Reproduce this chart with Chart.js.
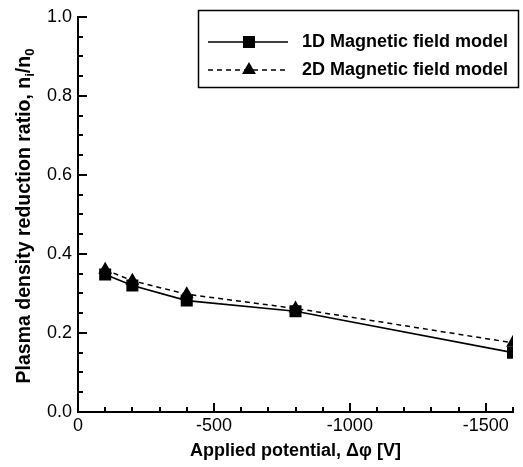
<!DOCTYPE html>
<html>
<head>
<meta charset="utf-8">
<script src="https://cdn.jsdelivr.net/npm/chart.js@4.4.1/dist/chart.umd.min.js"></script>
<style>
  html, body { margin: 0; padding: 0; background: #fff; }
  #wrap { width: 523px; height: 467px; }
</style>
</head>
<body>
<div id="wrap"><canvas id="chart" width="523" height="467"></canvas></div>
<script>
// -------------------------------
// DATA
// -------------------------------
const potential = [-100, -200, -400, -800, -1600];
const model1D = [0.348, 0.32, 0.282, 0.255, 0.15];
const model2D = [0.36, 0.332, 0.298, 0.262, 0.175];

const xTicks = [0, -500, -1000, -1500];
const yTicks = [0.0, 0.2, 0.4, 0.6, 0.8, 1.0];
const xMinorStep = 100;
const yMinorStep = 0.05;

const seriesNames = ["1D Magnetic field model", "2D Magnetic field model"];
const xTitle = "Applied potential, \u0394\u03c6 [V]";

const FONT = "'Liberation Sans', Arial, sans-serif";

// -------------------------------
// PLUGIN: inward ticks, y title, legend
// -------------------------------
const decorPlugin = {
  id: "decor",
  afterDraw(chart) {
    const ctx = chart.ctx;
    const xs = chart.scales.x;
    const ys = chart.scales.y;
    const area = chart.chartArea;

    ctx.save();
    ctx.strokeStyle = "#000";
    ctx.lineWidth = 2;

    // x ticks (pointing up)
    for (let v = 0; v >= xs.min; v -= xMinorStep) {
      const px = Math.round(xs.getPixelForValue(v));
      const len = v % 500 === 0 ? 9 : 5;
      ctx.beginPath();
      ctx.moveTo(px, area.bottom);
      ctx.lineTo(px, area.bottom - len);
      ctx.stroke();
    }
    // y ticks (pointing right)
    for (let i = 0; i * yMinorStep <= ys.max + 1e-9; i++) {
      const v = i * yMinorStep;
      const py = Math.round(ys.getPixelForValue(v));
      const len = i % 4 === 0 ? 9 : 5;
      ctx.beginPath();
      ctx.moveTo(area.left, py);
      ctx.lineTo(area.left + len, py);
      ctx.stroke();
    }

    // y axis title with subscripts
    const parts = [
      { t: "Plasma density reduction ratio, n", sub: false },
      { t: "i", sub: true },
      { t: "/n", sub: false },
      { t: "0", sub: true }
    ];
    const mainFont = "bold 19.5px " + FONT;
    const subFont = "bold 13px " + FONT;
    let total = 0;
    parts.forEach((p) => {
      ctx.font = p.sub ? subFont : mainFont;
      p.w = ctx.measureText(p.t).width;
      total += p.w;
    });
    ctx.translate(25, 216);
    ctx.rotate(-Math.PI / 2);
    ctx.fillStyle = "#000";
    ctx.textBaseline = "middle";
    ctx.textAlign = "left";
    let cx = -total / 2;
    parts.forEach((p) => {
      ctx.font = p.sub ? subFont : mainFont;
      ctx.fillText(p.t, cx, p.sub ? 5 : 0);
      cx += p.w;
    });
    ctx.restore();

    // legend
    ctx.save();
    ctx.strokeStyle = "#000";
    ctx.lineWidth = 1.5;
    ctx.strokeRect(198.5, 10.5, 320, 77);

    const rows = [
      { y: 42, dash: [], style: "rect", radius: 8.5 },
      { y: 70, dash: [5, 4], style: "triangle", radius: 8 }
    ];
    rows.forEach((r, i) => {
      ctx.lineWidth = 1.3;
      ctx.setLineDash(r.dash);
      ctx.beginPath();
      ctx.moveTo(208, r.y);
      ctx.lineTo(288, r.y);
      ctx.stroke();
      ctx.setLineDash([]);
      ctx.fillStyle = "#000";
      Chart.helpers.drawPoint(ctx, { pointStyle: r.style, radius: r.radius, borderWidth: 0, rotation: 0 }, 249, r.y);
      ctx.font = "bold 18px " + FONT;
      ctx.textBaseline = "middle";
      ctx.textAlign = "left";
      ctx.fillText(seriesNames[i], 302, r.y);
    });
    ctx.restore();
  }
};

// -------------------------------
// CHART
// -------------------------------
const ctx = document.getElementById("chart").getContext("2d");

new Chart(ctx, {
  type: "scatter",
  data: {
    datasets: [
      {
        label: seriesNames[0],
        data: potential.map((x, i) => ({ x, y: model1D[i] })),
        showLine: true,
        borderColor: "#000",
        backgroundColor: "#000",
        borderWidth: 1.7,
        pointStyle: "rect",
        pointRadius: 8.5,
        pointBorderWidth: 0
      },
      {
        label: seriesNames[1],
        data: potential.map((x, i) => ({ x, y: model2D[i] })),
        showLine: true,
        borderColor: "#000",
        backgroundColor: "#000",
        borderWidth: 1.5,
        borderDash: [5, 4],
        pointStyle: "triangle",
        pointRadius: 8,
        pointBorderWidth: 0
      }
    ]
  },
  options: {
    responsive: false,
    animation: false,
    layout: { padding: { top: 12, right: 10, left: 0, bottom: 0 } },
    plugins: {
      legend: { display: false },
      tooltip: { enabled: false }
    },
    scales: {
      x: {
        type: "linear",
        min: -1600,
        max: 0,
        reverse: true,
        afterBuildTicks: (scale) => {
          scale.ticks = xTicks.map((v) => ({ value: v }));
        },
        afterFit: (scale) => {
          scale.height = 55;
        },
        grid: { display: false, drawTicks: false },
        border: { display: true, color: "#000", width: 2 },
        ticks: {
          color: "#000",
          font: { family: FONT, size: 18 },
          padding: 3,
          maxRotation: 0,
          autoSkip: false,
          callback: (v) => String(v)
        },
        title: {
          display: true,
          text: xTitle,
          color: "#000",
          font: { family: FONT, size: 18, weight: "bold" },
          padding: { top: 0, bottom: 5 }
        }
      },
      y: {
        type: "linear",
        min: 0,
        max: 1,
        afterBuildTicks: (scale) => {
          scale.ticks = yTicks.map((v) => ({ value: v }));
        },
        afterFit: (scale) => {
          scale.width = 78;
        },
        grid: { display: false, drawTicks: false },
        border: { display: true, color: "#000", width: 2 },
        ticks: {
          color: "#000",
          font: { family: FONT, size: 18 },
          padding: 6,
          autoSkip: false,
          callback: (v) => v.toFixed(1)
        }
      }
    }
  },
  plugins: [decorPlugin]
});
</script>
</body>
</html>
